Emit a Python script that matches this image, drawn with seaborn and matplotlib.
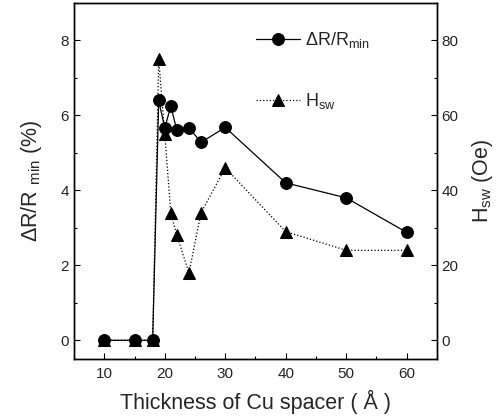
import matplotlib
matplotlib.use("Agg")
import matplotlib.pyplot as plt
import seaborn as sns
import pandas as pd
from matplotlib.ticker import MultipleLocator

sns.set_style("ticks")
plt.rcParams['font.family'] = ['Liberation Sans', 'DejaVu Sans']
plt.rcParams['mathtext.fontset'] = 'custom'
plt.rcParams['mathtext.rm'] = 'Liberation Sans'
plt.rcParams['mathtext.it'] = 'Liberation Sans'

thickness_dr = [10, 15, 18, 19, 20, 21, 22, 24, 26, 30, 40, 50, 60]
dr_values = [0, 0, 0, 6.4, 5.66, 6.25, 5.6, 5.67, 5.28, 5.68, 4.2, 3.8, 2.88]
thickness_hsw = [10, 15, 18, 19, 20, 21, 22, 24, 26, 30, 40, 50, 60]
hsw_values = [0, 0, 0, 75, 55, 34, 28, 18, 34, 46, 29, 24, 24]

df_dr = pd.DataFrame({"t": thickness_dr, "v": dr_values})
df_h = pd.DataFrame({"t": thickness_hsw, "v": hsw_values})

fig = plt.figure(figsize=(4.97, 4.17), dpi=100)
ax = fig.add_axes([0.149, 0.139, 0.730, 0.854])
ax2 = ax.twinx()

sns.lineplot(data=df_dr, x="t", y="v", ax=ax, color="black", marker="o",
             markersize=8.5, linewidth=0.9, markeredgecolor="black",
             label=r"$\Delta$R/R$_{\mathrm{min}}$", legend=False)
sns.lineplot(data=df_h, x="t", y="v", ax=ax2, color="black", marker="^",
             markersize=8.5, linewidth=0.9, linestyle=":", markeredgecolor="black",
             label=r"H$_{\mathrm{sw}}$", legend=False)

ax.set_xlim(5, 65)
ax.set_ylim(-0.5, 9.0)
ax2.set_ylim(-5, 90)

ax.xaxis.set_major_locator(MultipleLocator(10))
ax.xaxis.set_minor_locator(MultipleLocator(5))
ax.yaxis.set_major_locator(MultipleLocator(2))
ax.yaxis.set_minor_locator(MultipleLocator(1))
ax2.yaxis.set_major_locator(MultipleLocator(20))
ax2.yaxis.set_minor_locator(MultipleLocator(10))

for a in (ax, ax2):
    a.tick_params(which="both", direction="in", labelsize=11, width=0.8, color="black")
    a.tick_params(which="major", length=4)
    a.tick_params(which="minor", length=2)
    for s in a.spines.values():
        s.set_visible(True)
        s.set_linewidth(1.0)
        s.set_color("black")
ax.tick_params(axis="x", pad=6)

ax.set_xlabel("Thickness of Cu spacer ( Å )", fontsize=15.5, labelpad=6)
ax.set_ylabel(r"$\Delta$R/R $_{\mathrm{min}}$ (%)", fontsize=15.5, labelpad=12)
ax2.set_ylabel(r"H$_{\mathrm{sw}}$ (Oe)", fontsize=15.5, labelpad=8)

h1, l1 = ax.get_legend_handles_labels()
h2, l2 = ax2.get_legend_handles_labels()
ax2.legend(h1 + h2, l1 + l2, loc="upper right", bbox_to_anchor=(0.86, 0.97),
           frameon=False, fontsize=13, labelspacing=2.3, handlelength=2.4,
           handletextpad=0.3)

fig.savefig("out.png", dpi=100)
